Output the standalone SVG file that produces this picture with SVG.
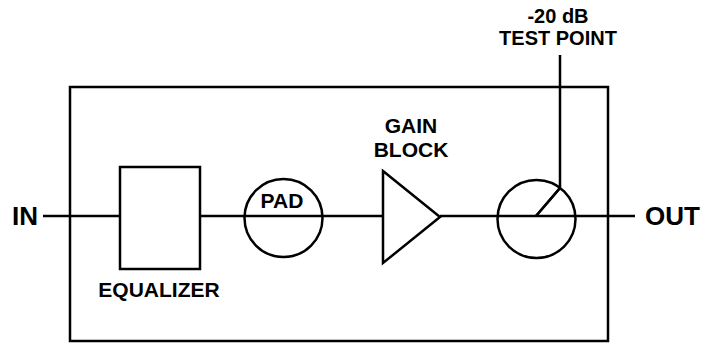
<svg xmlns="http://www.w3.org/2000/svg" width="708" height="345" viewBox="0 0 708 345">
<style>
.s{fill:none;stroke:#000;stroke-width:2.5}
.w{fill:#fff;stroke:#000;stroke-width:2.5}
text{font-family:"Liberation Sans",Arial,sans-serif;font-weight:bold;fill:#000}
.m{font-size:21px;text-anchor:middle}
.b{font-size:26px}
</style>
<rect width="708" height="345" fill="#fff"/>
<g id="housing"><rect class="s" x="70" y="87" width="538" height="254"/></g>
<g id="connectors">
<line class="s" x1="43" y1="216" x2="120" y2="216"/>
<line class="s" x1="200" y1="216" x2="383" y2="216"/>
<line class="s" x1="440" y1="216" x2="635" y2="216"/>
<polyline class="s" points="536,216 560,188 560,55"/>
</g>
<g id="in"><text class="b" x="12" y="225">IN</text></g>
<g id="out"><text class="b" x="645" y="225">OUT</text></g>
<g id="equalizer"><rect class="s" x="120" y="167" width="80" height="102"/><text class="m" x="159" y="297">EQUALIZER</text></g>
<g id="pad"><circle class="s" cx="283.5" cy="218" r="39"/><text class="m" x="282" y="208">PAD</text></g>
<g id="gain"><polygon class="w" points="383,171 440,217 383,263"/><text class="m" x="411" y="133">GAIN</text><text class="m" x="411" y="157">BLOCK</text></g>
<g id="coupler"><circle class="s" cx="536.5" cy="219" r="39"/><line class="s" x1="536" y1="216" x2="560" y2="188"/></g>
<g id="testpoint"><text class="m" x="558" y="23" style="font-size:20px">-20 dB</text><text class="m" x="558" y="45" style="font-size:20px">TEST POINT</text></g>
</svg>
